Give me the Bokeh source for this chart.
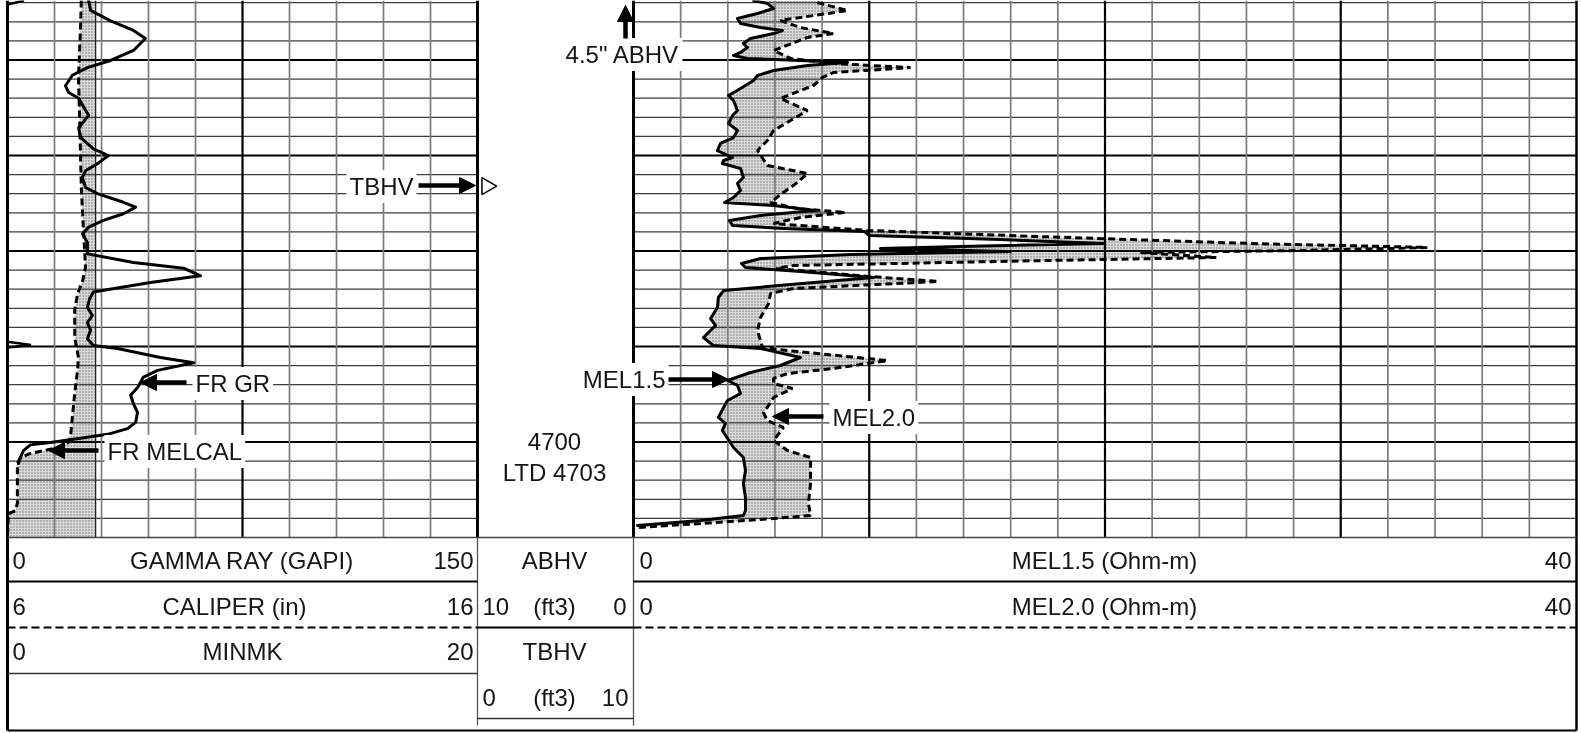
import numpy as np
from bokeh.plotting import figure
from bokeh.models import Range1d, Label, Arrow, NormalHead, ColumnDataSource
from bokeh.core.properties import value
from bokeh.embed import file_html
from bokeh.resources import INLINE

# ------------------------------------------------------------------ data
GR_DEPTH = [4653.77, 4654.8, 4655.9, 4656.9, 4657.75, 4659.0, 4660.05, 4660.8, 4661.6, 4662.7,
            4663.4, 4664.0, 4665.8, 4667.1, 4668.1, 4669.3, 4670.0, 4670.8, 4671.6, 4672.3,
            4673.35, 4674.0, 4674.9, 4675.4, 4676.1, 4676.8, 4677.5, 4678.2, 4679.1, 4680.3,
            4681.2, 4681.8, 4682.6, 4683.3, 4684.3, 4685.0, 4685.9, 4686.75, 4687.5, 4688.3,
            4689.2, 4689.9, 4690.2, 4691.15, 4691.7, 4692.5, 4693.2, 4694.3, 4695.1, 4696.0,
            4696.9, 4697.95, 4698.6, 4699.2, 4699.6, 4700.05, 4700.3, 4700.9, 4701.6, 4702.25]
GR_VALUE = [25.9, 26.5, 32.9, 40.2, 44.0, 40.2, 32.9, 25.5, 20.7, 18.5,
            19.5, 22.7, 25.9, 22.7, 23.3, 27.4, 32.2, 29.0, 24.9, 23.9,
            24.9, 28.7, 37.0, 40.9, 37.0, 30.6, 25.9, 23.9, 25.5, 25.5,
            40.2, 56.2, 61.6, 45.6, 27.4, 26.2, 25.5, 27.1, 25.5, 26.5,
            25.5, 27.4, 35.1, 48.8, 59.4, 47.9, 43.4, 41.5, 39.3, 40.2,
            41.5, 40.9, 38.3, 31.9, 23.3, 13.7, 7.3, 5.1, 4.1, 3.5]

CAL_DEPTH = [4653.77, 4657.2, 4661.8, 4665.3, 4669.2, 4673.35, 4678.2, 4681.7, 4683.1, 4684.5,
             4686.2, 4689.1, 4691.15, 4692.5, 4694.9, 4697.4, 4699.5, 4700.05, 4700.6, 4701.2,
             4701.6, 4702.25, 4706.4, 4707.2, 4707.5, 4710.0]
CAL_VALUE = [7.57, 7.55, 7.51, 7.53, 7.55, 7.57, 7.62, 7.66, 7.60, 7.49,
             7.43, 7.43, 7.51, 7.49, 7.43, 7.38, 7.34, 7.30, 7.06, 6.49,
             6.28, 6.21, 6.21, 6.17, 6.02, 6.00]
BIT_SIZE = 7.875

MINMK_DEPTH = [4653.77, 4654.2, 4689.5, 4689.85, 4690.1, 4702.3]
MINMK_VALUE = [0.7, 0.0, 0.0, 1.0, 0.0, 0.0]

MEL15_DEPTH = [4653.77, 4654.08, 4654.61, 4655.13, 4655.65, 4656.18, 4656.60, 4656.91, 4657.23, 4657.75,
               4658.27, 4658.69, 4659.21, 4659.53, 4659.84, 4660.05, 4660.26, 4660.58, 4661.10, 4661.62,
               4662.15, 4662.98, 4663.72, 4664.24, 4665.29, 4665.81, 4666.65, 4667.38, 4668.12, 4668.74,
               4669.48, 4669.79, 4670.21, 4670.52, 4670.84, 4671.36, 4672.30, 4672.93, 4673.66, 4674.40,
               4674.92, 4675.24, 4675.76, 4676.28, 4676.81, 4677.33, 4677.64, 4677.96, 4678.38, 4678.80,
               4679.21, 4679.53, 4679.74, 4680.05, 4680.37, 4680.79, 4681.31, 4681.73, 4682.15, 4682.78,
               4683.51, 4684.14, 4684.87, 4685.92, 4687.07, 4687.80, 4689.06, 4689.90, 4690.21, 4691.15,
               4691.99, 4692.72, 4693.56, 4694.08, 4694.92, 4695.65, 4696.39, 4697.43, 4698.06, 4698.79,
               4699.63, 4700.58, 4701.62, 4702.98, 4704.35, 4705.81, 4707.17, 4707.70, 4708.22, 4708.74]
MEL15_VALUE = [5.09, 5.68, 5.94, 5.26, 4.41, 4.54, 5.39, 6.32, 5.94, 4.96,
               4.66, 4.83, 4.54, 4.24, 4.83, 7.08, 9.08, 7.38, 5.94, 5.26,
               5.09, 4.54, 4.03, 4.24, 4.41, 4.20, 4.03, 4.41, 4.24, 3.69,
               3.56, 3.82, 4.20, 3.82, 3.77, 4.54, 4.66, 4.41, 4.54, 4.24,
               3.86, 5.94, 7.72, 5.39, 4.07, 4.20, 6.36, 9.80, 10.01, 15.56,
               19.97, 13.87, 10.47, 15.99, 9.20, 5.39, 4.58, 4.75, 7.08, 10.18,
               6.66, 3.82, 3.60, 3.56, 3.27, 3.48, 2.97, 3.39, 5.39, 7.08,
               6.23, 4.96, 3.99, 4.41, 4.54, 3.99, 3.82, 3.60, 3.90, 3.77,
               3.99, 4.24, 4.66, 4.75, 4.66, 4.75, 4.75, 4.66, 2.84, 0.17]

MEL20_DEPTH = [4653.98, 4654.82, 4655.13, 4655.86, 4656.60, 4657.23, 4657.64, 4659.01, 4659.84, 4660.37,
               4660.79, 4661.31, 4661.83, 4662.67, 4664.03, 4665.29, 4666.34, 4667.38, 4668.43, 4669.48,
               4671.05, 4671.88, 4672.83, 4673.87, 4674.92, 4675.55, 4675.97, 4676.49, 4677.12, 4677.85,
               4678.48, 4679.21, 4679.63, 4679.95, 4680.16, 4680.68, 4680.99, 4681.52, 4681.83, 4682.67,
               4683.19, 4683.93, 4684.45, 4685.50, 4686.96, 4688.33, 4690.10, 4690.42, 4691.47, 4692.30,
               4692.83, 4693.35, 4693.87, 4694.40, 4695.34, 4696.18, 4696.91, 4697.75, 4698.48, 4699.84,
               4700.89, 4701.62, 4704.35, 4706.44, 4707.70, 4708.01, 4708.53, 4708.95]
MEL20_VALUE = [7.80, 9.08, 8.23, 6.23, 7.08, 8.48, 7.38, 5.94, 6.66, 8.48,
               11.75, 8.48, 8.02, 7.63, 6.23, 7.38, 6.66, 5.94, 5.68, 5.26,
               5.68, 7.38, 6.95, 6.36, 5.81, 6.95, 8.99, 7.08, 5.94, 9.92,
               17.13, 26.17, 33.67, 28.29, 21.50, 24.72, 17.68, 6.79, 6.06, 10.01,
               12.93, 6.79, 5.81, 5.73, 5.39, 5.26, 5.47, 6.53, 10.77, 8.48,
               6.53, 5.94, 5.94, 6.74, 5.94, 5.73, 5.51, 5.68, 6.36, 5.94,
               6.53, 7.51, 7.51, 7.42, 7.51, 5.94, 2.84, 0.17]

TBHV_MARK_DEPTH = [4673.2]
TBHV_MARK_VALUE = [0.6]

# ------------------------------------------------------------------ layout
W, H = 1581, 733
LT0, LT1 = 7, 477          # left track (px)
RT0, RT1 = 633, 1576       # right track (px)
TRACK_BOTTOM = 4710.0
DEPTH_REF, DEPTH_REF_PX, PX_PER_FT = 4700.0, 441.5, 9.55

FONT = "Liberation Sans"
FS = "24px"
TXT = "#151515"


def depth_at(px):
    return DEPTH_REF + (px - DEPTH_REF_PX) / PX_PER_FT


def lin(v0, v1, p0, p1):
    s = (v1 - v0) / (p1 - p0)
    return Range1d(start=v0 - p0 * s, end=v0 + (W - p0) * s)


TOP = depth_at(0)

p = figure(width=W, height=H, x_range=Range1d(0, W), y_range=Range1d(depth_at(H), TOP),
           output_backend="svg", toolbar_location=None, x_axis_location=None, y_axis_location=None,
           min_border=0, outline_line_color=None, background_fill_color="white",
           border_fill_color="white",
           styles={"position": "fixed", "left": "0px", "top": "0px"})
p.grid.grid_line_color = None
p.extra_x_ranges = {"gr": lin(0, 150, LT0, LT1), "cal": lin(6, 16, LT0, LT1),
                    "mk": lin(0, 20, LT0, LT1), "mel": lin(0, 40, RT0, RT1),
                    "bhv": lin(0, 10, LT1, RT0)}
p.extra_y_ranges = {"py": Range1d(H, 0)}

SHADE = dict(fill_color="#dadada", hatch_pattern="dot", hatch_color="#707070",
             hatch_scale=3, hatch_weight=1)

# ---------------- shading
p.harea(y=CAL_DEPTH, x1=CAL_VALUE, x2=[BIT_SIZE] * len(CAL_VALUE), x_range_name="cal", **SHADE)

grid_d = np.union1d(MEL15_DEPTH, MEL20_DEPTH)
m1 = np.interp(grid_d, MEL15_DEPTH, MEL15_VALUE)
m2 = np.interp(grid_d, MEL20_DEPTH, MEL20_VALUE)
p.harea(y=grid_d, x1=m1, x2=np.maximum(m1, m2), x_range_name="mel", **SHADE)

# ---------------- grid
depth_lines = np.arange(4654, 4710, 2)
thin_d = [d for d in depth_lines if d % 10 != 0]
thick_d = [d for d in depth_lines if d % 10 == 0]
for rng, lo, hi in (("gr", 0, 150), ("mel", 0, 40)):
    p.segment(x0=[lo] * len(thin_d), x1=[hi] * len(thin_d), y0=thin_d, y1=thin_d,
              x_range_name=rng, line_color="#3c3c3c", line_width=1.2)
    p.segment(x0=[lo] * len(thick_d), x1=[hi] * len(thick_d), y0=thick_d, y1=thick_d,
              x_range_name=rng, line_color="black", line_width=2.2)

gr_v = [v for v in range(15, 150, 15) if v != 75]
p.segment(x0=gr_v, x1=gr_v, y0=[TOP] * len(gr_v), y1=[TRACK_BOTTOM] * len(gr_v),
          x_range_name="gr", line_color="#7c7c7c", line_width=1.7)
p.segment(x0=[75], x1=[75], y0=[TOP], y1=[TRACK_BOTTOM], x_range_name="gr",
          line_color="black", line_width=2.2)
mel_thin = [v for v in range(2, 40, 2) if v % 10 != 0]
mel_thick = [10, 20, 30]
p.segment(x0=mel_thin, x1=mel_thin, y0=[TOP] * len(mel_thin), y1=[TRACK_BOTTOM] * len(mel_thin),
          x_range_name="mel", line_color="#7c7c7c", line_width=1.7)
p.segment(x0=mel_thick, x1=mel_thick, y0=[TOP] * 3, y1=[TRACK_BOTTOM] * 3,
          x_range_name="mel", line_color="black", line_width=2.2)
# bit size reference
p.segment(x0=[BIT_SIZE], x1=[BIT_SIZE], y0=[TOP], y1=[TRACK_BOTTOM], x_range_name="cal",
          line_color="#222", line_width=1.3)

# ---------------- frame / header lines (page layout, px units)
def hline(x0, x1, y, w=1.5, c="black", dash="solid"):
    p.segment(x0=[x0], x1=[x1], y0=[y], y1=[y], y_range_name="py", line_color=c,
              line_width=w, line_dash=dash)


def vline(x, y0, y1, w=1.5, c="black"):
    p.segment(x0=[x], x1=[x], y0=[y0], y1=[y1], y_range_name="py", line_color=c, line_width=w)


vline(LT0, 0, 730, 3)
vline(RT1, 0, 730, 2.5)
vline(LT1, 0, 537, 3)
vline(RT0, 0, 537, 3)
vline(LT1, 537, 725, 1.3, "#555")
vline(RT0, 537, 725, 1.3, "#555")
hline(LT0, RT1, 537, 1.4, "#444")
hline(LT0, RT1, 730, 2)
hline(LT0, LT1, 581, 2.2)
hline(RT0, RT1, 581, 2.2)
hline(LT0, LT1, 627, 2.2, dash="8 4")
hline(RT0, RT1, 627, 2.2, dash="8 4")
hline(LT1, RT0, 627, 2)
hline(LT0, LT1, 673, 1.4, "#333")
hline(LT1, RT0, 718, 1.4, "#333")

# ---------------- curves
CURVE = dict(line_color="black", line_width=3, line_join="round", line_cap="round")
p.line(MINMK_VALUE, MINMK_DEPTH, x_range_name="mk", line_color="black", line_width=2.5)
p.line(CAL_VALUE, CAL_DEPTH, x_range_name="cal", line_dash="7 4",
       line_color="black", line_width=3)
p.line(GR_VALUE, GR_DEPTH, x_range_name="gr", **CURVE)
p.line(MEL20_VALUE, MEL20_DEPTH, x_range_name="mel", line_dash="7 4",
       line_color="black", line_width=3)
p.line(MEL15_VALUE, MEL15_DEPTH, x_range_name="mel", **CURVE)
p.scatter(TBHV_MARK_VALUE, TBHV_MARK_DEPTH, x_range_name="bhv", marker="triangle",
          angle=-np.pi / 2, size=17, fill_color="white", line_color="black", line_width=1.5)

# ---------------- header text
HEADER = [
    ("0", 12, 560, "left"), ("GAMMA RAY (GAPI)", 242, 560, "center"), ("150", 473, 560, "right"),
    ("ABHV", 554, 560, "center"),
    ("0", 639, 560, "left"), ("MEL1.5 (Ohm-m)", 1104, 560, "center"), ("40", 1571, 560, "right"),
    ("6", 12, 606, "left"), ("CALIPER (in)", 234, 606, "center"), ("16", 473, 606, "right"),
    ("10", 482, 606, "left"), ("(ft3)", 554, 606, "center"), ("0", 626, 606, "right"),
    ("0", 639, 606, "left"), ("MEL2.0 (Ohm-m)", 1104, 606, "center"), ("40", 1571, 606, "right"),
    ("0", 12, 651, "left"), ("MINMK", 242, 651, "center"), ("20", 473, 651, "right"),
    ("TBHV", 554, 651, "center"),
    ("0", 482, 697, "left"), ("(ft3)", 554, 697, "center"), ("10", 628, 697, "right"),
    ("4700", 554, 441, "center"), ("LTD 4703", 554, 472, "center"),
]
for align in ("left", "center", "right"):
    rows = [h for h in HEADER if h[3] == align]
    src = ColumnDataSource(dict(t=[r[0] for r in rows], x=[r[1] for r in rows],
                                y=[r[2] for r in rows]))
    p.text(x="x", y="y", text="t", source=src, y_range_name="py", text_align=align,
           text_baseline="middle", text_font=value(FONT), text_font_size=FS, text_color=TXT)

# ---------------- annotations
def tag(text, x, y, align):
    p.add_layout(Label(x=x, y=y, y_range_name="py", text=text, text_align=align,
                       text_baseline="middle", text_font=FONT, text_font_size=FS,
                       text_color=TXT, background_fill_color="white", padding=3))


def arrow(x0, y0, x1, y1):
    p.add_layout(Arrow(end=NormalHead(size=16, fill_color="black", line_color="black",
                                      line_width=1),
                       x_start=x0, y_start=y0, x_end=x1, y_end=y1, y_range_name="py",
                       line_color="black", line_width=4.5))


tag("TBHV", 381, 186, "center")
arrow(418, 185, 475, 185)
tag('4.5" ABHV', 622, 54, "center")
arrow(625, 38, 625, 5)
tag("FR GR", 192, 383, "left")
arrow(186, 382, 140, 382)
tag("FR MELCAL", 104, 451, "left")
arrow(98, 450, 48, 450)
tag("MEL1.5", 668, 379, "right")
arrow(668, 379, 728, 379)
tag("MEL2.0", 829, 417, "left")
arrow(823, 416, 772, 416)

open("out.html", "w").write(file_html(p, INLINE))
